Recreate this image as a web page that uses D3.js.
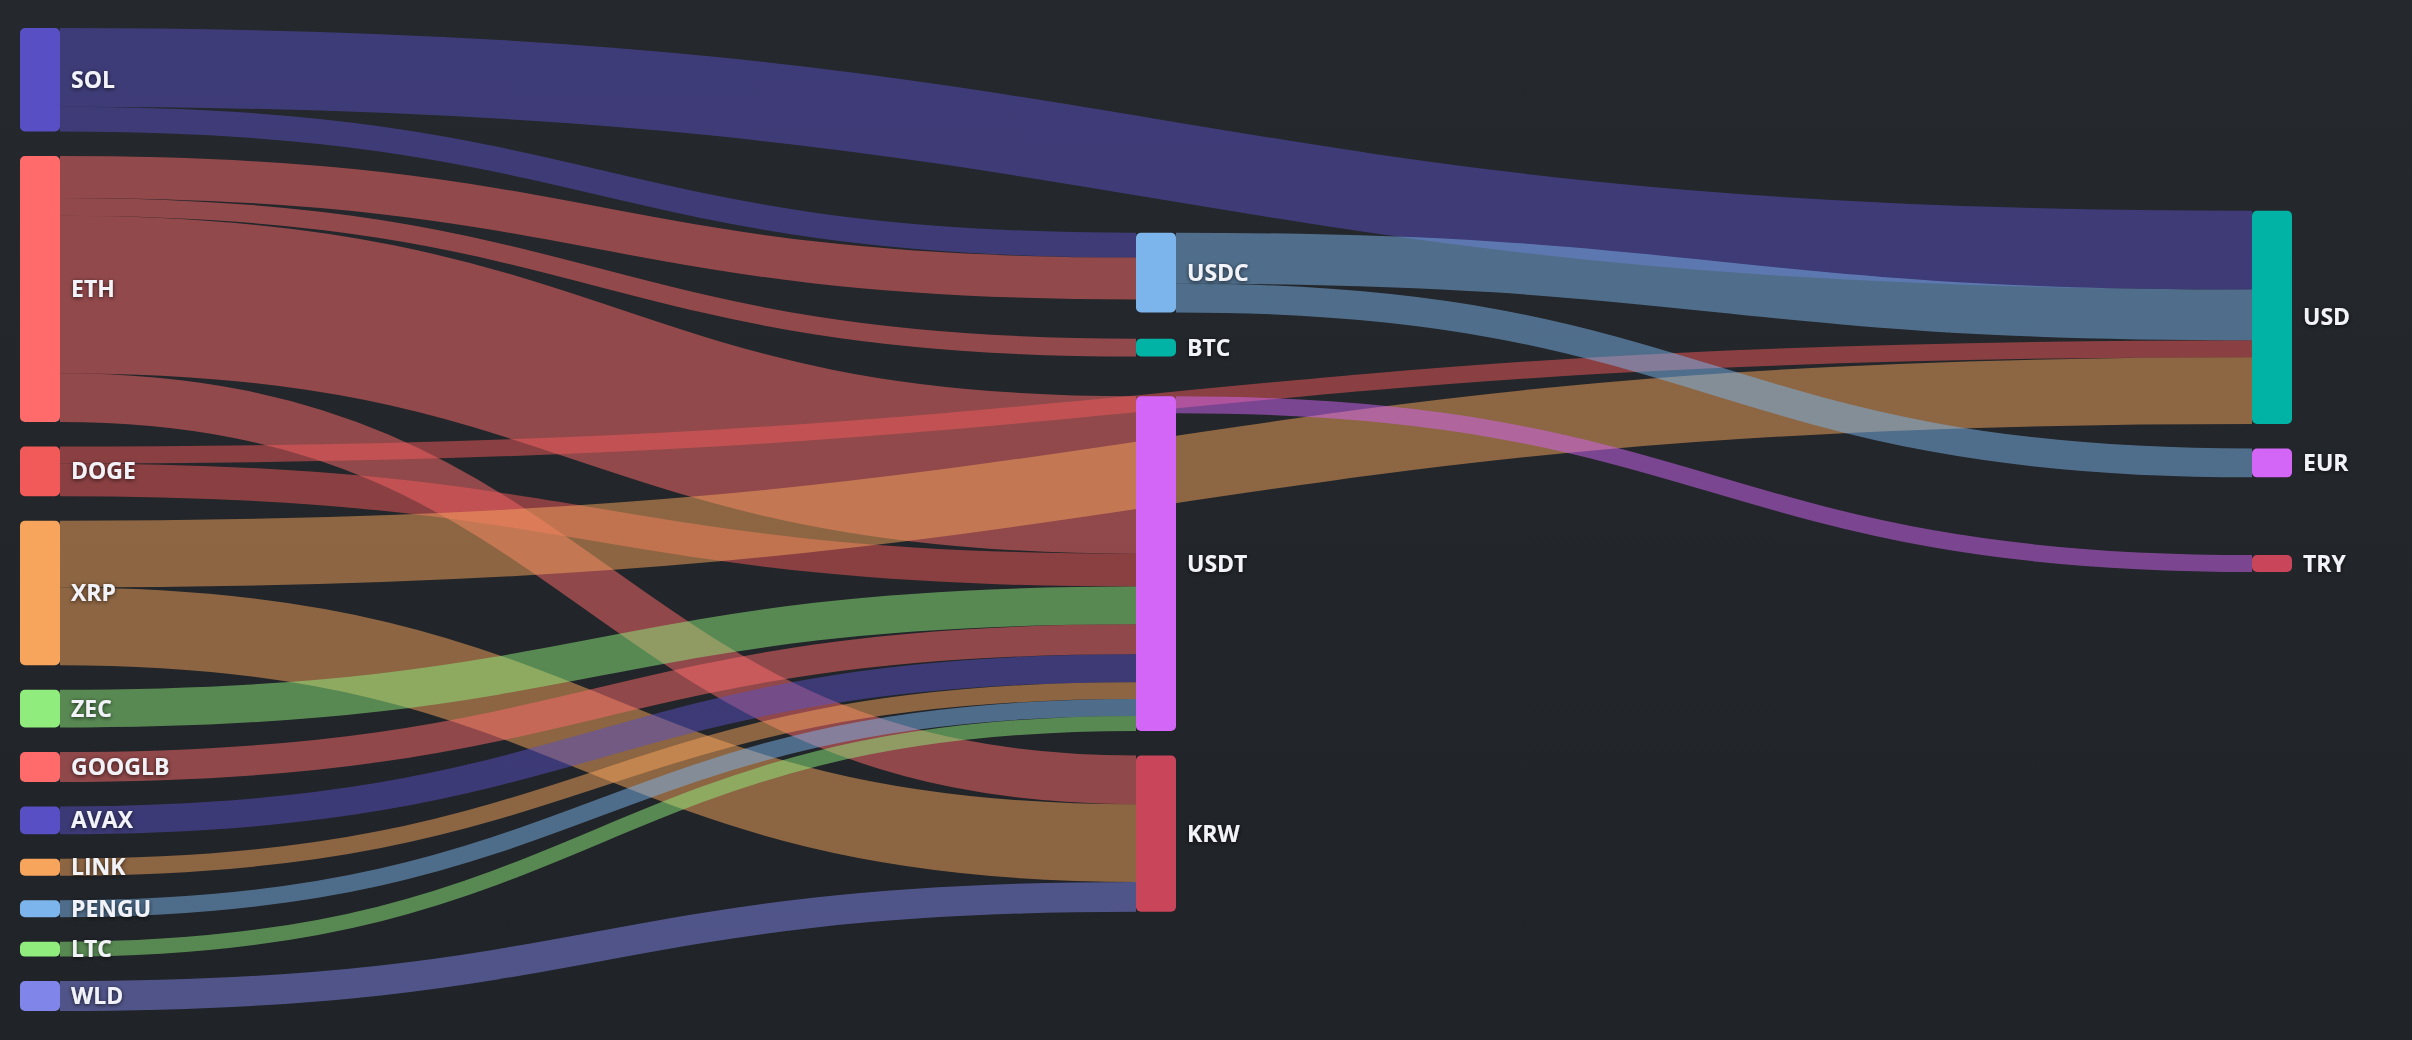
<!DOCTYPE html>
<html>
<head>
<meta charset="utf-8">
<script src="https://cdn.jsdelivr.net/npm/d3@7"></script>
<style>
html, body { margin: 0; padding: 0; background: #222529; overflow: hidden; }
svg { display: block; }
.node-label {
    font-family: "Open Sans", "Noto Sans", sans-serif;
    font-weight: 700;
    font-size: 23px;
    fill: #f2f3f8;
}
</style>
</head>
<body>
<div id="sankey"></div>
<script>
// sankey of trading pairs: coins -> quote assets -> fiat

var width = 2412, height = 1040;

// nodes, top to bottom in each column
var nodeNames = ["SOL", "ETH", "DOGE", "XRP", "ZEC", "GOOGLB", "AVAX", "LINK", "PENGU", "LTC", "WLD",
                 "USDC", "BTC", "USDT", "KRW",
                 "USD", "EUR", "TRY"];
var nodeColors = ["#584fc4", "#ff6b6b", "#f25a5a", "#f7a55c", "#90ed7d", "#ff6b6b", "#584fc4", "#f7a55c", "#7cb5ec", "#90ed7d", "#8085e9",
                  "#7cb5ec", "#00b3a4", "#d466f7", "#c9455a",
                  "#00b3a4", "#d466f7", "#c9455a"];

// flows
var linkSources = ["SOL", "SOL", "ETH", "ETH", "ETH", "ETH", "DOGE", "DOGE", "XRP", "XRP",
                   "ZEC", "GOOGLB", "AVAX", "LINK", "PENGU", "LTC", "WLD",
                   "USDC", "USDC", "USDT"];
var linkTargets = ["USD", "USDC", "USDC", "BTC", "USDT", "KRW", "USD", "USDT", "USD", "KRW",
                   "USDT", "USDT", "USDT", "USDT", "USDT", "USDT", "KRW",
                   "USD", "EUR", "TRY"];
var linkValues = [79, 25, 42, 18, 158, 49, 17, 33, 67, 78,
                  38, 30, 28, 17, 17, 15, 30,
                  51, 29, 17];

var color = d3.scaleOrdinal().domain(nodeNames).range(nodeColors);

var svg = d3.select("#sankey").append("svg")
    .attr("width", width)
    .attr("height", height);

var defs = svg.append("defs");
var grad = defs.append("linearGradient")
    .attr("id", "bg-grad")
    .attr("x1", 0).attr("y1", 0).attr("x2", 0).attr("y2", 1);
grad.append("stop").attr("offset", "0%").attr("stop-color", "#25282c");
grad.append("stop").attr("offset", "100%").attr("stop-color", "#202327");

var shadow = defs.append("filter")
    .attr("id", "label-shadow")
    .attr("x", "-20%").attr("y", "-40%").attr("width", "140%").attr("height", "180%");
shadow.append("feDropShadow")
    .attr("dx", 0).attr("dy", 1)
    .attr("stdDeviation", 2)
    .attr("flood-color", "#000")
    .attr("flood-opacity", 0.7);

svg.append("rect")
    .attr("width", width)
    .attr("height", height)
    .attr("fill", "url(#bg-grad)");


// LAYOUT (classic sankey relaxation: nodes pulled to the weighted centre
// of their neighbours; column order is kept as given)

function center(n) { return n.y + n.dy / 2; }

function layoutSankey(graph, extent, nodeWidth, nodePadding, iterations) {
    var nodes = graph.nodes, links = graph.links;
    var ex0 = extent[0][0], ey0 = extent[0][1], ex1 = extent[1][0], ey1 = extent[1][1];
    var h = ey1 - ey0;

    nodes.forEach(function(n) { n.sourceLinks = []; n.targetLinks = []; });
    links.forEach(function(l) {
        l.source.sourceLinks.push(l);
        l.target.targetLinks.push(l);
    });
    nodes.forEach(function(n) {
        n.value = Math.max(d3.sum(n.sourceLinks, function(l) { return l.value; }),
                           d3.sum(n.targetLinks, function(l) { return l.value; }));
    });

    // longest path from a source, left aligned
    var current = nodes, depth = 0;
    while (current.length) {
        var next = [];
        current.forEach(function(n) {
            n.depth = depth;
            n.sourceLinks.forEach(function(l) {
                if (next.indexOf(l.target) < 0) next.push(l.target);
            });
        });
        depth++;
        current = next;
    }

    var maxDepth = d3.max(nodes, function(n) { return n.depth; });
    var x = d3.scaleLinear().domain([0, maxDepth]).range([ex0, ex1 - nodeWidth]);
    nodes.forEach(function(n) { n.x0 = x(n.depth); n.x1 = n.x0 + nodeWidth; });

    var columns = d3.range(maxDepth + 1).map(function(d) {
        return nodes.filter(function(n) { return n.depth === d; });
    });
    var ky = d3.min(columns, function(c) {
        return (h - (c.length - 1) * nodePadding) / d3.sum(c, function(n) { return n.value; });
    });
    var size = d3.scaleLinear().domain([0, 1]).range([0, ky]);

    columns.forEach(function(col) {
        col.forEach(function(n, i) { n.y = i; n.dy = size(n.value); });
    });
    links.forEach(function(l) { l.width = size(l.value); });

    function resolveCollisions() {
        columns.forEach(function(col) {
            var y0 = 0, n, dy, i;
            for (i = 0; i < col.length; i++) {
                n = col[i];
                dy = y0 - n.y;
                if (dy > 0) n.y += dy;
                y0 = n.y + n.dy + nodePadding;
            }
            dy = y0 - nodePadding - h;
            if (dy > 0) {
                y0 = n.y -= dy;
                for (i = col.length - 2; i >= 0; i--) {
                    n = col[i];
                    dy = n.y + n.dy + nodePadding - y0;
                    if (dy > 0) n.y -= dy;
                    y0 = n.y;
                }
            }
        });
    }

    function relaxLeftToRight(alpha) {
        columns.forEach(function(col) {
            col.forEach(function(n) {
                if (!n.targetLinks.length) return;
                var y = d3.sum(n.targetLinks, function(l) { return center(l.source) * l.value; }) /
                        d3.sum(n.targetLinks, function(l) { return l.value; });
                n.y += (y - center(n)) * alpha;
            });
        });
    }

    function relaxRightToLeft(alpha) {
        columns.slice().reverse().forEach(function(col) {
            col.forEach(function(n) {
                if (!n.sourceLinks.length) return;
                var y = d3.sum(n.sourceLinks, function(l) { return center(l.target) * l.value; }) /
                        d3.sum(n.sourceLinks, function(l) { return l.value; });
                n.y += (y - center(n)) * alpha;
            });
        });
    }

    resolveCollisions();
    for (var alpha = 1; iterations > 0; --iterations) {
        relaxRightToLeft(alpha *= 0.99);
        resolveCollisions();
        relaxLeftToRight(alpha);
        resolveCollisions();
    }

    nodes.forEach(function(n) { n.y0 = ey0 + n.y; n.y1 = n.y0 + n.dy; });

    // link breadths, ordered by the other end
    nodes.forEach(function(n) {
        n.sourceLinks.sort(function(a, b) { return a.target.y0 - b.target.y0; });
        n.targetLinks.sort(function(a, b) { return a.source.y0 - b.source.y0; });
    });
    nodes.forEach(function(n) {
        var sy = n.y0, ty = n.y0;
        n.sourceLinks.forEach(function(l) { l.y0 = sy + l.width / 2; sy += l.width; });
        n.targetLinks.forEach(function(l) { l.y1 = ty + l.width / 2; ty += l.width; });
    });
    return graph;
}


// BUILD

var nodes = nodeNames.map(function(name) { return {name: name}; });
var byName = {};
nodes.forEach(function(n) { byName[n.name] = n; });
var links = linkValues.map(function(v, i) {
    return {source: byName[linkSources[i]], target: byName[linkTargets[i]], value: v};
});

var graph = layoutSankey({nodes: nodes, links: links}, [[20, 28], [2292, 1011]], 40, 24.5, 100);

var linkPath = d3.linkHorizontal()
    .source(function(d) { return [d.source.x1, d.y0]; })
    .target(function(d) { return [d.target.x0, d.y1]; });

svg.append("g")
    .attr("class", "links")
    .attr("fill", "none")
  .selectAll("path")
  .data(graph.links)
  .enter().append("path")
    .attr("d", linkPath)
    .attr("stroke", function(d) { return color(d.source.name); })
    .attr("stroke-opacity", 0.5)
    .attr("stroke-width", function(d) { return Math.max(1, d.width); });

svg.append("g")
    .attr("class", "nodes")
  .selectAll("rect")
  .data(graph.nodes)
  .enter().append("rect")
    .attr("x", function(d) { return d.x0; })
    .attr("y", function(d) { return d.y0; })
    .attr("width", function(d) { return d.x1 - d.x0; })
    .attr("height", function(d) { return d.y1 - d.y0; })
    .attr("rx", 5)
    .attr("fill", function(d) { return color(d.name); });

svg.append("g")
    .attr("class", "labels")
  .selectAll("text")
  .data(graph.nodes)
  .enter().append("text")
    .attr("class", "node-label")
    .attr("x", function(d) { return d.x1 + 11; })
    .attr("y", function(d) { return (d.y0 + d.y1) / 2; })
    .attr("dy", "0.35em")
    .attr("filter", "url(#label-shadow)")
    .text(function(d) { return d.name; });
</script>
</body>
</html>
